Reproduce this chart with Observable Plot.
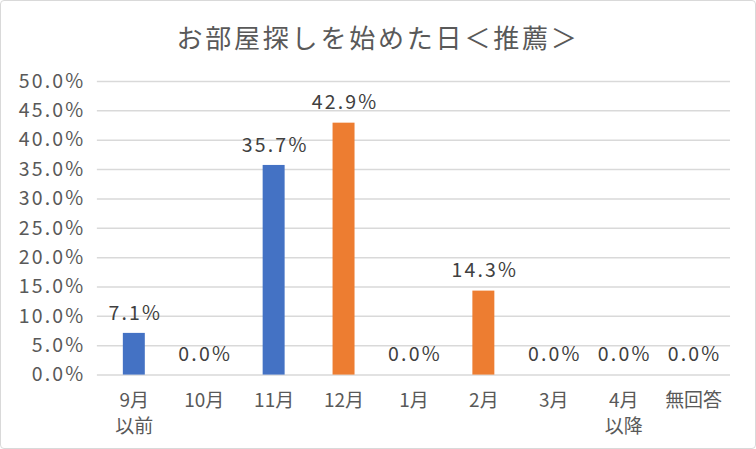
<!DOCTYPE html>
<html>
<head>
<meta charset="utf-8">
<script src="https://cdn.jsdelivr.net/npm/d3@7"></script>
<script src="https://cdn.jsdelivr.net/npm/@observablehq/plot@0.6"></script>
<style>
  html, body { margin: 0; padding: 0; background: #fff; }
  #frame {
    position: relative; width: 754px; height: 447px;
    border: 1px solid #d9d9d9; border-radius: 4px; overflow: hidden;
    font-family: "Noto Sans CJK JP", sans-serif;
  }
  #title {
    position: absolute; left: 0; top: 0; width: 100%; height: 60px;
    line-height: 72px; text-align: center; font-size: 26px; color: #595959;
    letter-spacing: 2.8px;
  }
  #chart { position: absolute; left: -1px; top: 59px; }
  #chart g[aria-label="y-axis tick label"] text,
  #chart g[aria-label="text"] text { letter-spacing: 2.2px; }
</style>
</head>
<body>
<div id="frame">
  <div id="title">お部屋探しを始めた日＜推薦＞</div>
  <div id="chart"></div>
</div>
<script>
const categories = ["9月\n以前", "10月", "11月", "12月", "1月", "2月", "3月", "4月\n以降", "無回答"];
const values = [0.071, 0.0, 0.357, 0.429, 0.0, 0.143, 0.0, 0.0, 0.0];
const colorGroups = ["A", "A", "A", "B", "B", "B", "B", "B", "B"];
const yTicks = [0, 0.05, 0.10, 0.15, 0.20, 0.25, 0.30, 0.35, 0.40, 0.45, 0.50];

const data = categories.map((c, i) => ({ cat: c, value: values[i], group: colorGroups[i] }));
const fmt = v => (v * 100).toFixed(1) + "%";

const plot = Plot.plot({
  width: 756,
  height: 389,
  marginTop: 21,
  marginBottom: 74,
  marginLeft: 97,
  marginRight: 25,
  style: { fontFamily: "Noto Sans CJK JP, sans-serif", fontSize: "19px", color: "#595959", background: "transparent", overflow: "visible" },
  x: { domain: categories, paddingInner: 0.69, paddingOuter: 0.345, label: null },
  y: { domain: [0, 0.5], label: null },
  color: { domain: ["A", "B"], range: ["#4472C4", "#ED7D31"] },
  marks: [
    Plot.gridY(yTicks, { stroke: "#d9d9d9", strokeOpacity: 1, strokeWidth: 1.5 }),
    Plot.axisY(yTicks, { tickSize: 0, tickPadding: 12, tickFormat: fmt, fontSize: 19.5, fill: "#595959" }),
    Plot.axisX({ tickSize: 0, tickPadding: 13, fontSize: 19, fill: "#595959", lineHeight: 1.37 }),
    Plot.barY(data, { x: "cat", y: "value", fill: "group" }),
    Plot.text(data, { x: "cat", y: "value", text: d => fmt(d.value), dy: -20, dx: 1, fontSize: 19.5, fill: "#404040" })
  ]
});
document.getElementById("chart").appendChild(plot);
</script>
</body>
</html>
